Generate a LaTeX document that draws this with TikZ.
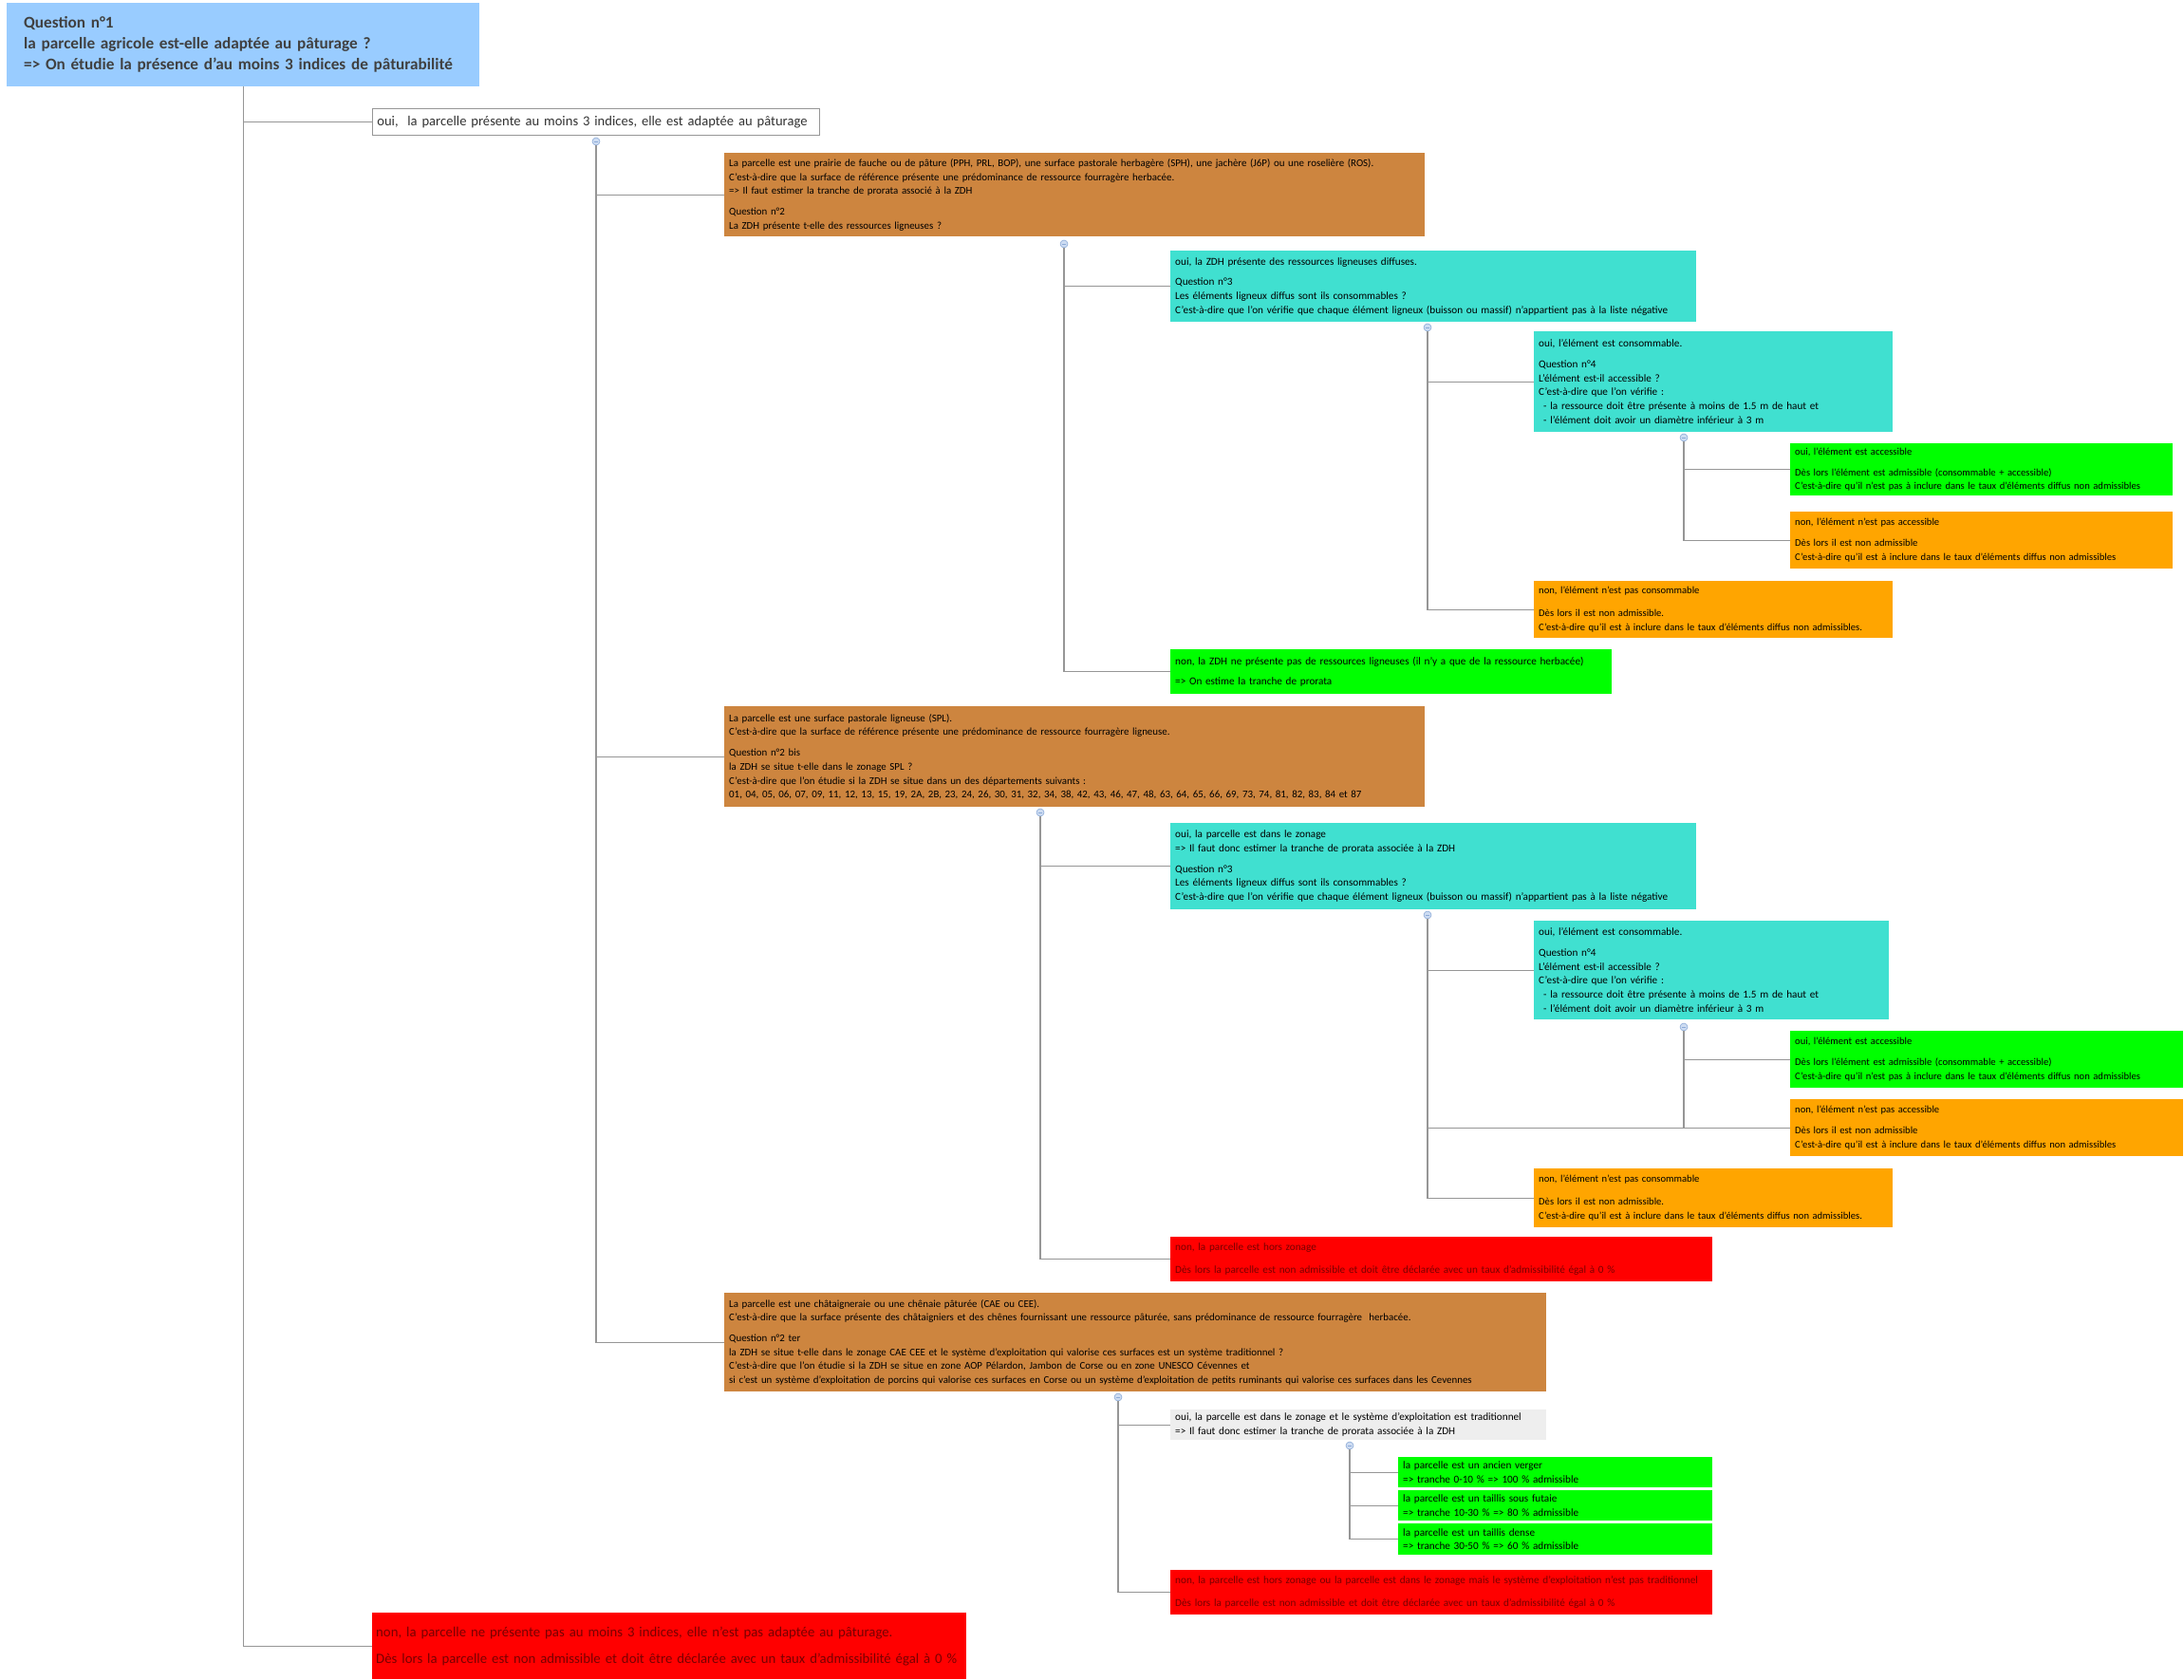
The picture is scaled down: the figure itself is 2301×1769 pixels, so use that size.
\documentclass[tikz,border=0pt]{standalone}
\usepackage{fontspec}
\setmainfont{Carlito}
\usepackage{tikz}

\definecolor{askblue}{RGB}{153,204,255}
\definecolor{brownbox}{RGB}{205,133,63}
\definecolor{cyanbox}{RGB}{64,224,208}
\definecolor{greenbox}{RGB}{0,255,0}
\definecolor{orangebox}{RGB}{255,165,0}
\definecolor{redbox}{RGB}{255,0,0}
\definecolor{greybox}{RGB}{238,238,238}
\definecolor{linkgrey}{RGB}{150,150,150}
\definecolor{knobblue}{RGB}{205,220,242}
\definecolor{knobedge}{RGB}{140,170,215}
\definecolor{redtext}{RGB}{120,0,0}

% repeated texts
\newcommand{\consoyes}{oui, l'élément est consommable.\\[7pt]
 Question n°4\\ L'élément est-il accessible ?\\ C'est-à-dire que l'on vérifie :\\
 \hspace*{5pt}- la ressource doit être présente à moins de 1.5 m de haut et\\
 \hspace*{5pt}- l'élément doit avoir un diamètre inférieur à 3 m}
\newcommand{\accesyes}{oui, l'élément est accessible\\[7pt]
 Dès lors l'élément est admissible (consommable + accessible)\\
 C'est-à-dire qu'il n'est pas à inclure dans le taux d'éléments diffus non admissibles}
\newcommand{\accesno}{non, l'élément n'est pas accessible\\[7pt]
 Dès lors il est non admissible\\
 C'est-à-dire qu'il est à inclure dans le taux d'éléments diffus non admissibles}
\newcommand{\consono}{non, l'élément n'est pas consommable\\[9pt]
 Dès lors il est non admissible.\\
 C'est-à-dire qu'il est à inclure dans le taux d'éléments diffus non admissibles.}
\newcommand{\zeroadm}{Dès lors la parcelle est non admissible et doit être déclarée avec un taux d'admissibilité égal à 0 \%}

\begin{document}
\begin{tikzpicture}[x=1pt, y=-1pt,
  cell/.style args={#1/#2/#3}{anchor=north west, fill=#3, text width=#1, minimum height=#2,
    inner xsep=5pt, inner ysep=0pt, align=left, font=\fontsize{11.2}{14.7}\selectfont},
  leaftext/.style={font=\fontsize{10.6}{14.7}\selectfont},
  browntext/.style={font=\fontsize{10.9}{14.7}\selectfont},
  link/.style={draw=linkgrey, line width=1.3pt},
  knob/.style={circle, fill=knobblue, draw=knobedge, line width=0.6pt, minimum size=8pt, inner sep=0pt,
    path picture={\draw[knobedge, line width=0.6pt] ([xshift=-2pt]path picture bounding box.center) -- ([xshift=2pt]path picture bounding box.center);}}]
\useasboundingbox (0,0) rectangle (2301,1769);

%question 1
\node[anchor=north west, fill=askblue, text width=462pt, minimum height=88pt, inner xsep=18pt, inner ysep=0pt,
  align=left, text=black!75, font=\bfseries\fontsize{17.2}{22}\selectfont] (q1) at (7,3)
  {Question n°1\\ la parcelle agricole est-elle adaptée au pâturage ?\\ => On étudie la présence d'au moins 3 indices de pâturabilité};

\node[anchor=north west, fill=white, draw=linkgrey, line width=0.6pt, text width=461pt, minimum height=28pt,
  inner xsep=5pt, inner ysep=0pt, align=left, text=black!80, font=\fontsize{14.6}{18}\selectfont] (oui) at (392,114)
  {oui,\ \ la parcelle présente au moins 3 indices, elle est adaptée au pâturage};

\node[cell=618pt/70pt/redbox, inner xsep=4pt, text=redtext, font=\fontsize{14.8}{18}\selectfont] (nonfin) at (392,1699)
  {non, la parcelle ne présente pas au moins 3 indices, elle n'est pas adaptée au pâturage.\\[10pt] \zeroadm};

%first branch : prairie
\node[cell=728pt/88pt/brownbox, browntext] (b1) at (763,161)
  {La parcelle est une prairie de fauche ou de pâture (PPH, PRL, BOP), une surface pastorale herbagère (SPH), une jachère (J6P) ou une roselière (ROS).\\
   C'est-à-dire que la surface de référence présente une prédominance de ressource fourragère herbacée.\\
   => Il faut estimer la tranche de prorata associé à la ZDH\\[7pt]
   Question n°2\\ La ZDH présente t-elle des ressources ligneuses ?};
\node[cell=544pt/75pt/cyanbox] (c1) at (1233,264)
  {oui, la ZDH présente des ressources ligneuses diffuses.\\[7pt]
   Question n°3\\ Les éléments ligneux diffus sont ils consommables ?\\
   C'est-à-dire que l'on vérifie que chaque élément ligneux (buisson ou massif) n'appartient pas à la liste négative};
\node[cell=368pt/106pt/cyanbox] (d1) at (1616,349) {\consoyes};
\node[cell=393pt/55pt/greenbox, leaftext] (e1) at (1886,467) {\accesyes};
\node[cell=393pt/60pt/orangebox, leaftext] (f1) at (1886,539) {\accesno};
\node[cell=368pt/60pt/orangebox, leaftext] (g1) at (1616,612) {\consono};
\node[cell=455pt/47pt/greenbox] (h1) at (1233,684)
  {non, la ZDH ne présente pas de ressources ligneuses (il n'y a que de la ressource herbacée)\\[7pt]
   => On estime la tranche de prorata};

%second branch : SPL
\node[cell=728pt/106pt/brownbox, browntext] (b2) at (763,744)
  {La parcelle est une surface pastorale ligneuse (SPL).\\
   C'est-à-dire que la surface de référence présente une prédominance de ressource fourragère ligneuse.\\[7pt]
   Question n°2 bis\\ la ZDH se situe t-elle dans le zonage SPL ?\\
   C'est-à-dire que l'on étudie si la ZDH se situe dans un des départements suivants :\\
   01, 04, 05, 06, 07, 09, 11, 12, 13, 15, 19, 2A, 2B, 23, 24, 26, 30, 31, 32, 34, 38, 42, 43, 46, 47, 48, 63, 64, 65, 66, 69, 73, 74, 81, 82, 83, 84 et 87};
\node[cell=544pt/91pt/cyanbox] (c2) at (1233,867)
  {oui, la parcelle est dans le zonage\\ => Il faut donc estimer la tranche de prorata associée à la ZDH\\[7pt]
   Question n°3\\ Les éléments ligneux diffus sont ils consommables ?\\
   C'est-à-dire que l'on vérifie que chaque élément ligneux (buisson ou massif) n'appartient pas à la liste négative};
\node[cell=364pt/104pt/cyanbox] (d2) at (1616,970) {\consoyes};
\node[cell=404pt/60pt/greenbox, leaftext] (e2) at (1886,1086) {\accesyes};
\node[cell=404pt/60pt/orangebox, leaftext] (f2) at (1886,1158) {\accesno};
\node[cell=368pt/62pt/orangebox, leaftext] (g2) at (1616,1231) {\consono};
\node[cell=561pt/47pt/redbox, text=redtext] (h2) at (1233,1303)
  {non, la parcelle est hors zonage\\[9pt] \zeroadm};

%third branch : CAE CEE
\node[cell=856pt/104pt/brownbox, browntext] (b3) at (763,1362)
  {La parcelle est une châtaigneraie ou une chênaie pâturée (CAE ou CEE).\\
   C'est-à-dire que la surface présente des châtaigniers et des chênes fournissant une ressource pâturée, sans prédominance de ressource fourragère\ \ herbacée.\\[7pt]
   Question n°2 ter\\
   la ZDH se situe t-elle dans le zonage CAE CEE et le système d'exploitation qui valorise ces surfaces est un système traditionnel ?\\
   C'est-à-dire que l'on étudie si la ZDH se situe en zone AOP Pélardon, Jambon de Corse ou en zone UNESCO Cévennes et\\
   si c'est un système d'exploitation de porcins qui valorise ces surfaces en Corse ou un système d'exploitation de petits ruminants qui valorise ces surfaces dans les Cevennes};
\node[cell=386pt/32pt/greybox] (c3) at (1233,1485)
  {oui, la parcelle est dans le zonage et le système d'exploitation est traditionnel\\
   => Il faut donc estimer la tranche de prorata associée à la ZDH};
\node[cell=321pt/32pt/greenbox] (v1) at (1473,1535)
  {la parcelle est un ancien verger\\ => tranche 0-10 \% => 100 \% admissible};
\node[cell=321pt/32pt/greenbox] (v2) at (1473,1570)
  {la parcelle est un taillis sous futaie\\ => tranche 10-30 \% => 80 \% admissible};
\node[cell=321pt/33pt/greenbox] (v3) at (1473,1605)
  {la parcelle est un taillis dense\\ => tranche 30-50 \% => 60 \% admissible};
\node[cell=561pt/47pt/redbox, text=redtext] (h3) at (1233,1654)
  {non, la parcelle est hors zonage ou la parcelle est dans le zonage mais le système d'exploitation n'est pas traditionnel\\[9pt] \zeroadm};

%collapse knobs
\node[knob] (k0) at (628,149) {};
\node[knob] (k1) at (1121,257) {};
\node[knob] (k2) at (1504,345) {};
\node[knob] (k3) at (1774,461) {};
\node[knob] (k4) at (1096,856) {};
\node[knob] (k5) at (1504,964) {};
\node[knob] (k6) at (1774,1082) {};
\node[knob] (k7) at (1178,1472) {};
\node[knob] (k8) at (1422,1523) {};

%links
\draw[link] (q1.south) |- (oui.west);
\draw[link] (q1.south) |- (nonfin.west);
\foreach \n in {b1,b2,b3} \draw[link] (k0) |- (\n.west);
\foreach \n in {c1,h1} \draw[link] (k1) |- (\n.west);
\foreach \n in {d1,g1} \draw[link] (k2) |- (\n.west);
\foreach \n in {e1,f1} \draw[link] (k3) |- (\n.west);
\foreach \n in {c2,h2} \draw[link] (k4) |- (\n.west);
\foreach \n in {d2,f2,g2} \draw[link] (k5) |- (\n.west);
\foreach \n in {e2,f2} \draw[link] (k6) |- (\n.west);
\foreach \n in {c3,h3} \draw[link] (k7) |- (\n.west);
\foreach \n in {v1,v2,v3} \draw[link] (k8) |- (\n.west);
\end{tikzpicture}
\end{document}
